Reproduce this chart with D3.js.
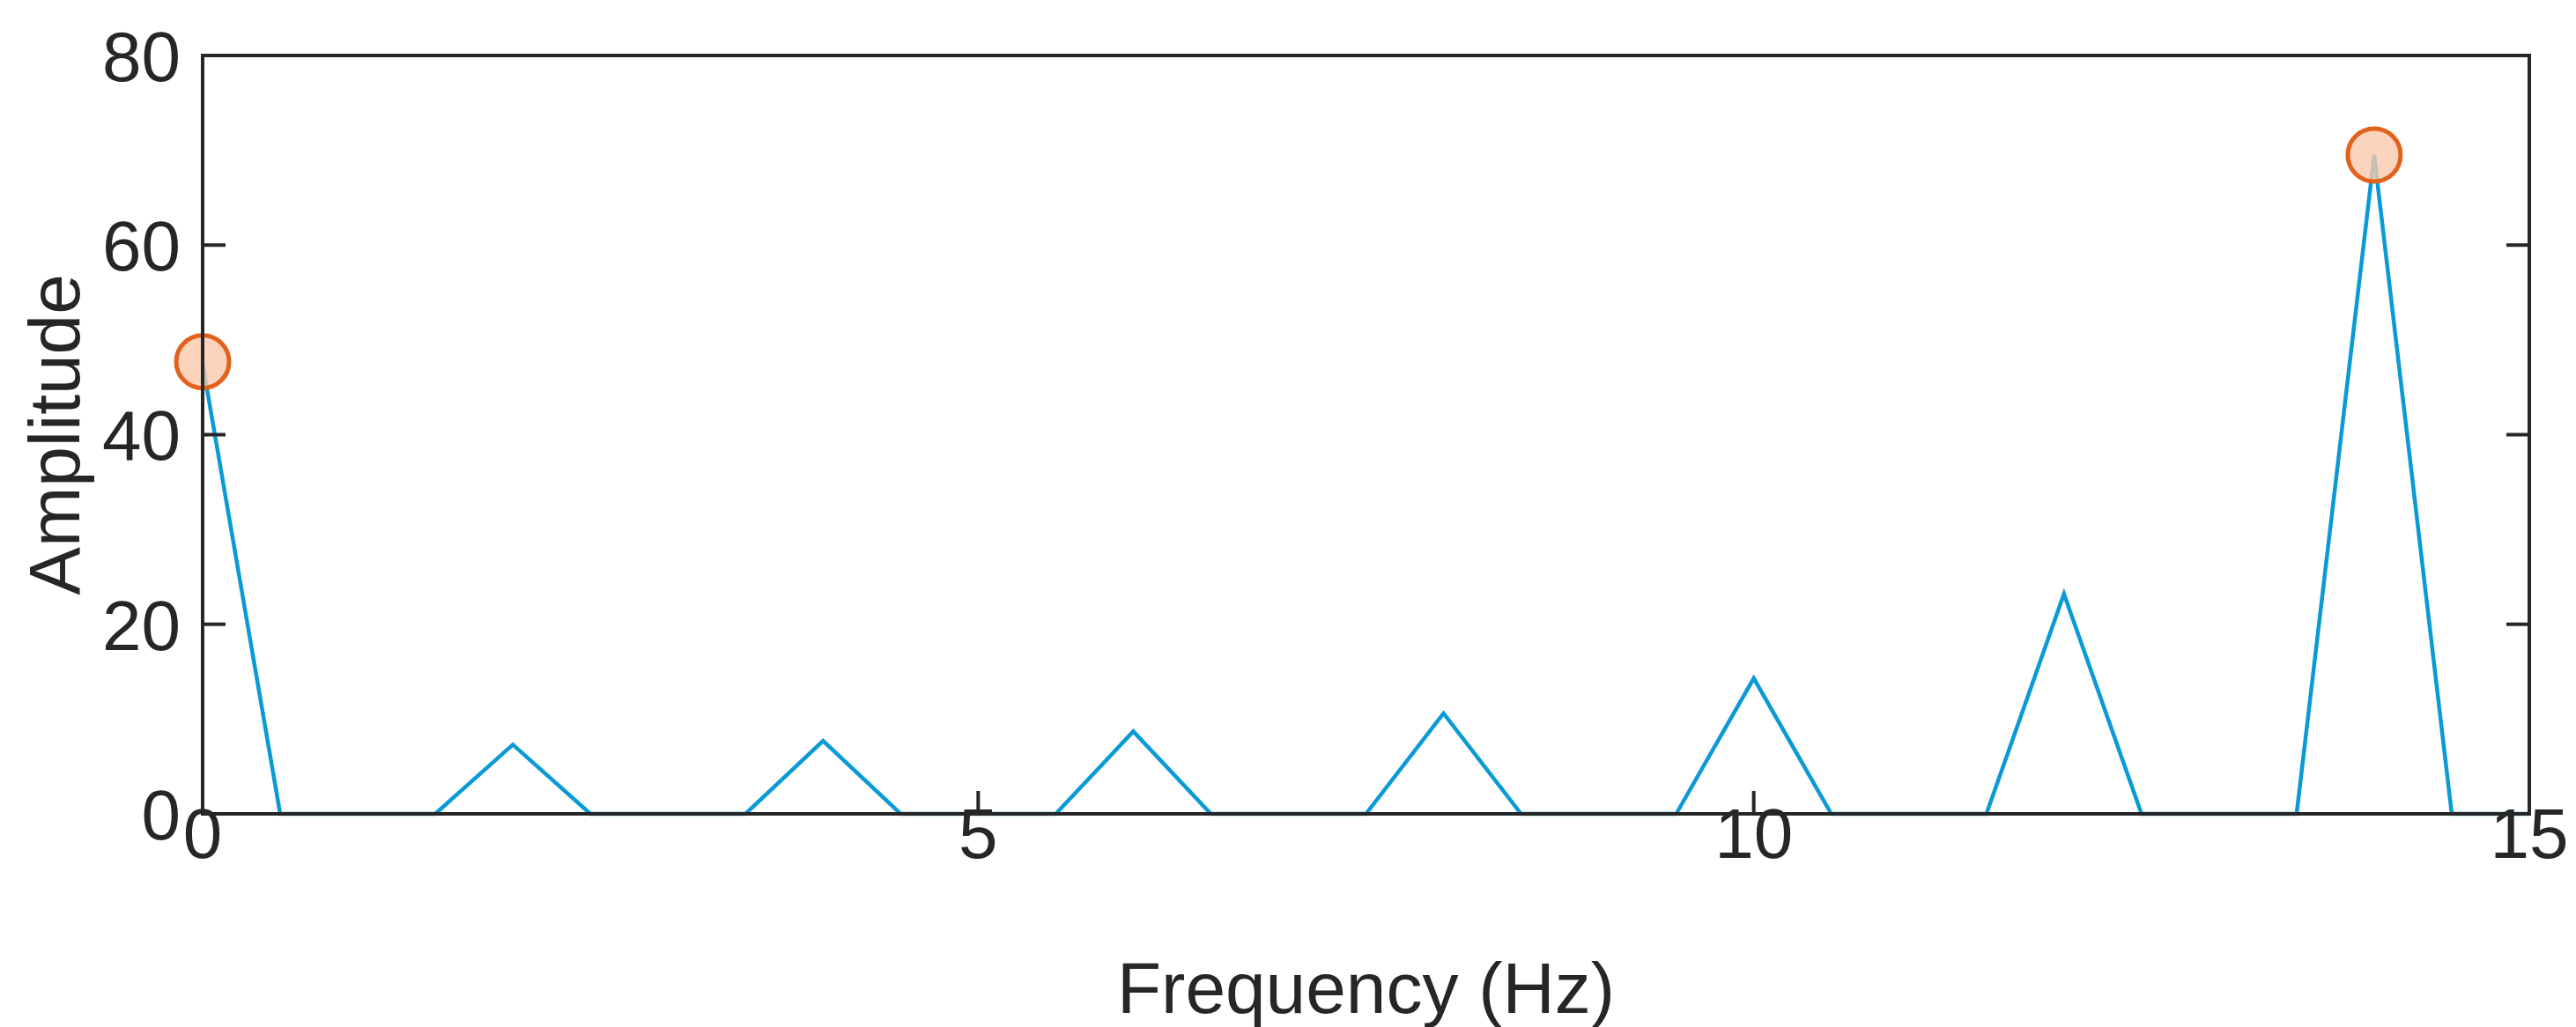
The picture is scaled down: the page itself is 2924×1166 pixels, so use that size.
<!DOCTYPE html>
<html><head><meta charset="utf-8">
<script src="https://cdn.jsdelivr.net/npm/d3@7"></script>
<style>body{margin:0;background:#fff}</style>
</head><body>
<svg id="chart" width="2924" height="1166"></svg>
<script>
// spectrum sampled every 0.5 Hz
var freqs = [0,0.5,1,1.5,2,2.5,3,3.5,4,4.5,5,5.5,6,6.5,7,7.5,8,8.5,9,9.5,10,10.5,11,11.5,12,12.5,13,13.5,14,14.5,15]
var amps  = [47.5,0,0,0,7.3,0,0,0,7.7,0,0,0,8.7,0,0,0,10.6,0,0,0,14.3,0,0,0,23.2,0,0,0,69.5,0,0]
var peakFreqs = [0, 14]
var peakAmps = [47.7, 69.5]
var xTicks = [0,5,10,15]
var yTicks = [0,20,40,60,80]

var m = {l:230, r:2871, t:63, b:924}
var svg = d3.select('#chart')
var x = d3.scaleLinear().domain([0,15]).range([m.l,m.r])
var y = d3.scaleLinear().domain([0,80]).range([m.b,m.t])
var font = '"Liberation Sans", Arial, sans-serif', ink = '#262626'

var line = d3.line().x(function(d,i){ return x(freqs[i]) }).y(function(d){ return y(d) })
svg.append('path').datum(amps).attr('d', line)
  .attr('fill','none').attr('stroke','#0a9ad6').attr('stroke-width',4.5).attr('stroke-linejoin','miter')

svg.selectAll('circle.peak').data(peakFreqs).enter().append('circle')
  .attr('cx', function(d){ return x(d) }).attr('cy', function(d,i){ return y(peakAmps[i]) })
  .attr('r',30).attr('fill','#f9c9ad').attr('fill-opacity',0.8)
  .attr('stroke','#e2621b').attr('stroke-width',5)

// axes: ticks inward, box on all sides
var ax = svg.append('g').attr('stroke',ink).attr('stroke-width',4)
ax.append('rect').attr('x',m.l).attr('y',m.t).attr('width',m.r-m.l).attr('height',m.b-m.t).attr('fill','none')
yTicks.forEach(function(t){
  ax.append('line').attr('x1',m.l).attr('x2',m.l+26).attr('y1',y(t)).attr('y2',y(t))
  ax.append('line').attr('x1',m.r).attr('x2',m.r-26).attr('y1',y(t)).attr('y2',y(t))
})
xTicks.forEach(function(t){
  ax.append('line').attr('x1',x(t)).attr('x2',x(t)).attr('y1',m.b).attr('y2',m.b-26)
})

svg.selectAll('text.yt').data(yTicks).enter().append('text')
  .attr('x',205).attr('y',function(d){ return y(d) }).attr('dy','0.36em')
  .attr('text-anchor','end').attr('font-family',font).attr('font-size',80).attr('fill',ink)
  .text(function(d){ return d })
svg.selectAll('text.xt').data(xTicks).enter().append('text')
  .attr('x',function(d){ return x(d) }).attr('y',974)
  .attr('text-anchor','middle').attr('font-family',font).attr('font-size',80).attr('fill',ink)
  .text(function(d){ return d })

svg.append('text').attr('x',(m.l+m.r)/2).attr('y',1150).attr('text-anchor','middle')
  .attr('font-family',font).attr('font-size',82).attr('fill',ink).text('Frequency (Hz)')
svg.append('text').attr('transform','translate(90,'+((m.t+m.b)/2)+') rotate(-90)').attr('text-anchor','middle')
  .attr('font-family',font).attr('font-size',82).attr('fill',ink).text('Amplitude')
</script>
</body></html>
